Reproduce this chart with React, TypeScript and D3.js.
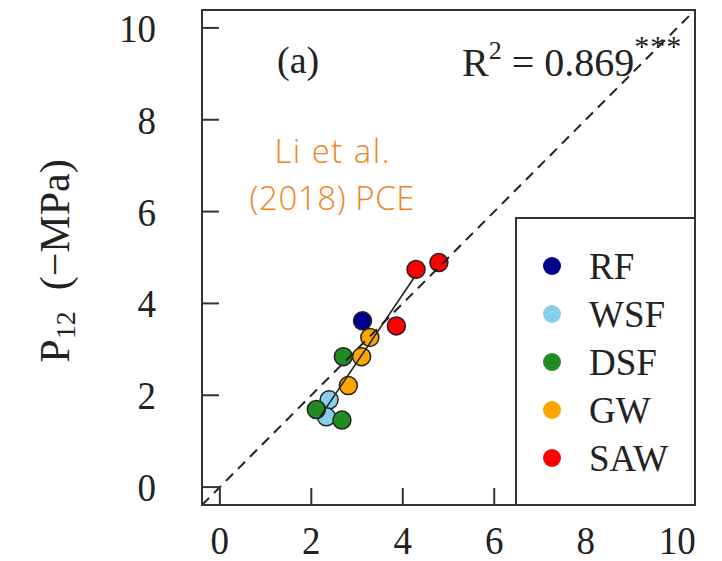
import React from "react";
import * as d3 from "d3";

const groups = ["RF", "WSF", "DSF", "GW", "SAW"];
const groupColors = ["#00008B", "#87CEEB", "#228B22", "#FFA500", "#FF0000"];

// observed points (group index, x, y)
const pointGroup = [0, 1, 1, 2, 2, 2, 3, 3, 3, 4, 4, 4];
const pointX = [3.12, 2.39, 2.33, 2.70, 2.11, 2.67, 3.28, 3.10, 2.81, 4.29, 4.79, 3.86];
const pointY = [3.62, 1.90, 1.53, 2.84, 1.69, 1.46, 3.26, 2.84, 2.21, 4.74, 4.89, 3.51];

const fitX = [2.19, 4.26];
const fitY = [1.53, 4.58];

const ticks = [0, 2, 4, 6, 8, 10];
const domain = [-0.39, 10.39];

const W = 722;
const H = 561;
const left = 202, right = 695, top = 10, bottom = 505;

export default function App() {
  const x = d3.scaleLinear().domain(domain).range([left, right]);
  const y = d3.scaleLinear().domain(domain).range([bottom, top]);
  const serif = "'Liberation Serif', 'Times New Roman', serif";
  const sans = "'Open Sans', 'Noto Sans', sans-serif";
  const tickLen = 17;

  const line = d3.line<number>().x((d) => x(fitX[d])).y((d) => y(fitY[d]));

  return (
    <svg width={W} height={H} style={{ position: "absolute", left: 0, top: 0, background: "#fff" }}>
      <rect x={0} y={0} width={W} height={H} fill="#fff" />
      {/* points */}
      {pointX.map((px, i) => (
        <circle
          key={i}
          cx={x(px)}
          cy={y(pointY[i])}
          r={9}
          fill={groupColors[pointGroup[i]]}
          stroke="#222"
          strokeWidth={1.5}
        />
      ))}
      {/* fit line */}
      <path d={line([0, 1]) || ""} stroke="#222" strokeWidth={1.6} fill="none" />
      {/* 1:1 line */}
      <line
        x1={x(domain[0])}
        y1={y(domain[0])}
        x2={x(domain[1])}
        y2={y(domain[1])}
        stroke="#222"
        strokeWidth={2}
        strokeDasharray="10,7"
      />
      {/* frame */}
      <rect x={left} y={top} width={right - left} height={bottom - top} fill="none" stroke="#333" strokeWidth={2} />
      {/* ticks */}
      {ticks.map((t) => (
        <g key={"x" + t}>
          <line x1={x(t)} x2={x(t)} y1={bottom} y2={bottom - tickLen} stroke="#333" strokeWidth={2} />
          <text
            transform={`translate(${x(t)}, 554) scale(1, 1.1)`}
            textAnchor="middle"
            fontFamily={serif}
            fontSize={37}
            fill="#222"
          >
            {t}
          </text>
        </g>
      ))}
      {ticks.map((t) => (
        <g key={"y" + t}>
          <line x1={left} x2={left + tickLen} y1={y(t)} y2={y(t)} stroke="#333" strokeWidth={2} />
          <text
            transform={`translate(156, ${y(t) + 14}) scale(1, 1.1)`}
            textAnchor="end"
            fontFamily={serif}
            fontSize={37}
            fill="#222"
          >
            {t}
          </text>
        </g>
      ))}
      {/* y label */}
      <text
        transform={`translate(69, 261) rotate(-90)`}
        textAnchor="middle"
        fontFamily={serif}
        fontSize={42}
        fill="#222"
      >
        <tspan>P</tspan>
        <tspan fontSize={28} dy={6}>12</tspan>
        <tspan dy={-6}>{"\u00a0\u00a0(\u2212MPa)"}</tspan>
      </text>
      {/* panel label */}
      <text x={277} y={73} fontFamily={serif} fontSize={38} fill="#222">(a)</text>
      {/* R2 */}
      <text x={462} y={76} fontFamily={serif} fontSize={40} fill="#222">
        <tspan>R</tspan>
        <tspan fontSize={26} dy={-17}>2</tspan>
        <tspan dy={17}>{" = 0.869"}</tspan>
        <tspan fontSize={30} dy={-20} letterSpacing={1}>***</tspan>
      </text>
      {/* orange annotation */}
      <text
        x={332}
        y={163}
        textAnchor="middle"
        fontFamily={sans}
        fontWeight={300}
        fontSize={33}
        fill="#EE8424"
        textLength={115}
        lengthAdjust="spacing"
      >
        Li et al.
      </text>
      <text
        x={332}
        y={210}
        textAnchor="middle"
        fontFamily={sans}
        fontWeight={300}
        fontSize={33}
        fill="#EE8424"
        textLength={165}
        lengthAdjust="spacing"
      >
        (2018) PCE
      </text>
      {/* legend */}
      <rect x={516} y={218} width={right - 516} height={bottom - 218} fill="#fff" stroke="#333" strokeWidth={2} />
      {groups.map((g, i) => (
        <g key={g}>
          <circle cx={552} cy={266 + i * 48} r={9} fill={groupColors[i]} />
          <text x={589} y={266 + i * 48 + 13} fontFamily={serif} fontSize={37} fill="#222">
            {g}
          </text>
        </g>
      ))}
    </svg>
  );
}
